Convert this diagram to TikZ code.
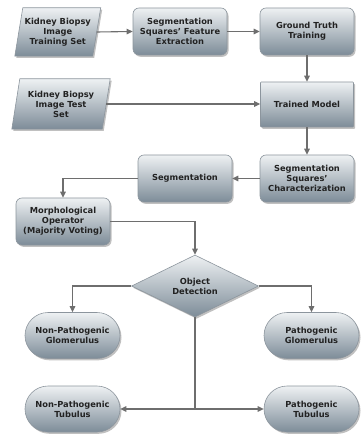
\documentclass[tikz,border=0pt]{standalone}
\usepackage{fontspec}
\setmainfont{DejaVu Sans}
\usetikzlibrary{shapes.geometric,shapes.misc,arrows.meta,shadows,backgrounds}
\definecolor{boxtop}{HTML}{EEF1F3}
\definecolor{boxbot}{HTML}{7D8C98}
\definecolor{edgec}{HTML}{8C959D}
\definecolor{linec}{HTML}{6E6E6E}
\definecolor{txtc}{HTML}{222222}
\tikzset{
  shadedbox/.style={top color=boxtop, bottom color=boxbot, draw=edgec, line width=0.6pt,
    drop shadow={shadow xshift=1.5pt, shadow yshift=-1.8pt, fill=black!45, opacity=0.55}},
  txt/.style={font=\bfseries\fontsize{8.3}{10}\selectfont, text=txtc, align=center, inner sep=0pt},
  procbox/.style={shadedbox, txt, rectangle, rounded corners=6pt, minimum width=94pt, minimum height=47pt},
  sqbox/.style={shadedbox, txt, rectangle, rounded corners=0.8pt, minimum width=93pt, minimum height=45pt},
  pillbox/.style={shadedbox, txt, rounded rectangle, minimum width=95pt, minimum height=46pt},
  decbox/.style={shadedbox, txt, diamond, minimum width=127pt, minimum height=62pt},
  iobox/.style={txt, rectangle, minimum height=48pt},
  conn/.style={draw=linec, line width=1.1pt, -{Triangle[length=6pt,width=5.5pt]}},
}
\begin{document}
\begin{tikzpicture}[x=1pt,y=-1pt]
\useasboundingbox (0,0) rectangle (360,435);
% input parallelograms
\node[iobox, minimum width=77.5pt, minimum height=48pt] (p1) at (57.75,32) {Kidney Biopsy\\Image\\Training Set};
\node[iobox, minimum width=90pt, minimum height=50pt] (p2) at (61,104) {Kidney Biopsy\\Image Test\\Set};
\begin{scope}[on background layer]
\path[shadedbox] ([xshift=4pt]p1.north west) -- ([xshift=4pt]p1.north east) -- ([xshift=-4pt]p1.south east) -- ([xshift=-4pt]p1.south west) -- cycle;
\path[shadedbox] ([xshift=4pt]p2.north west) -- ([xshift=4pt]p2.north east) -- ([xshift=-4pt]p2.south east) -- ([xshift=-4pt]p2.south west) -- cycle;
\end{scope}
% process boxes
\node[procbox] (fe) at (180,31.5) {Segmentation\\Squares' Feature\\Extraction};
\node[procbox] (gt) at (307,31.5) {Ground Truth\\Training};
\node[sqbox] (tm) at (307,104.5) {Trained Model};
\node[procbox] (sc) at (307,178.5) {Segmentation\\Squares'\\Characterization};
\node[procbox] (sg) at (185,178.5) {Segmentation};
\node[procbox] (mo) at (63,221.5) {Morphological\\Operator\\(Majority Voting)};
\node[decbox] (od) at (195,286) {Object\\Detection};
\node[pillbox] (npg) at (72.5,335.5) {Non-Pathogenic\\Glomerulus};
\node[pillbox] (pg) at (311.5,335.5) {Pathogenic\\Glomerulus};
\node[pillbox] (npt) at (72.5,409) {Non-Pathogenic\\Tubulus};
\node[pillbox] (pt) at (311.5,409) {Pathogenic\\Tubulus};
% connectors
\draw[conn] (p1.east) -- (fe.west);
\draw[conn] (fe.east) -- (gt.west);
\draw[conn] (gt.south) -- (tm.north);
\draw[conn] (p2.east) -- (p2.east -| tm.west);
\draw[conn] (tm.south) -- (sc.north);
\draw[conn] (sc.west) -- (sg.east);
\draw[conn] (sg.west) -| (mo.north);
\draw[conn] (mo.east) -| (od.north);
\draw[conn] (od.west) -| (npg.north);
\draw[conn] (od.east) -| (pg.north);
\draw[conn] (od.south) |- (npt.east);
\draw[conn] (od.south) |- (pt.west);
\end{tikzpicture}
\end{document}
